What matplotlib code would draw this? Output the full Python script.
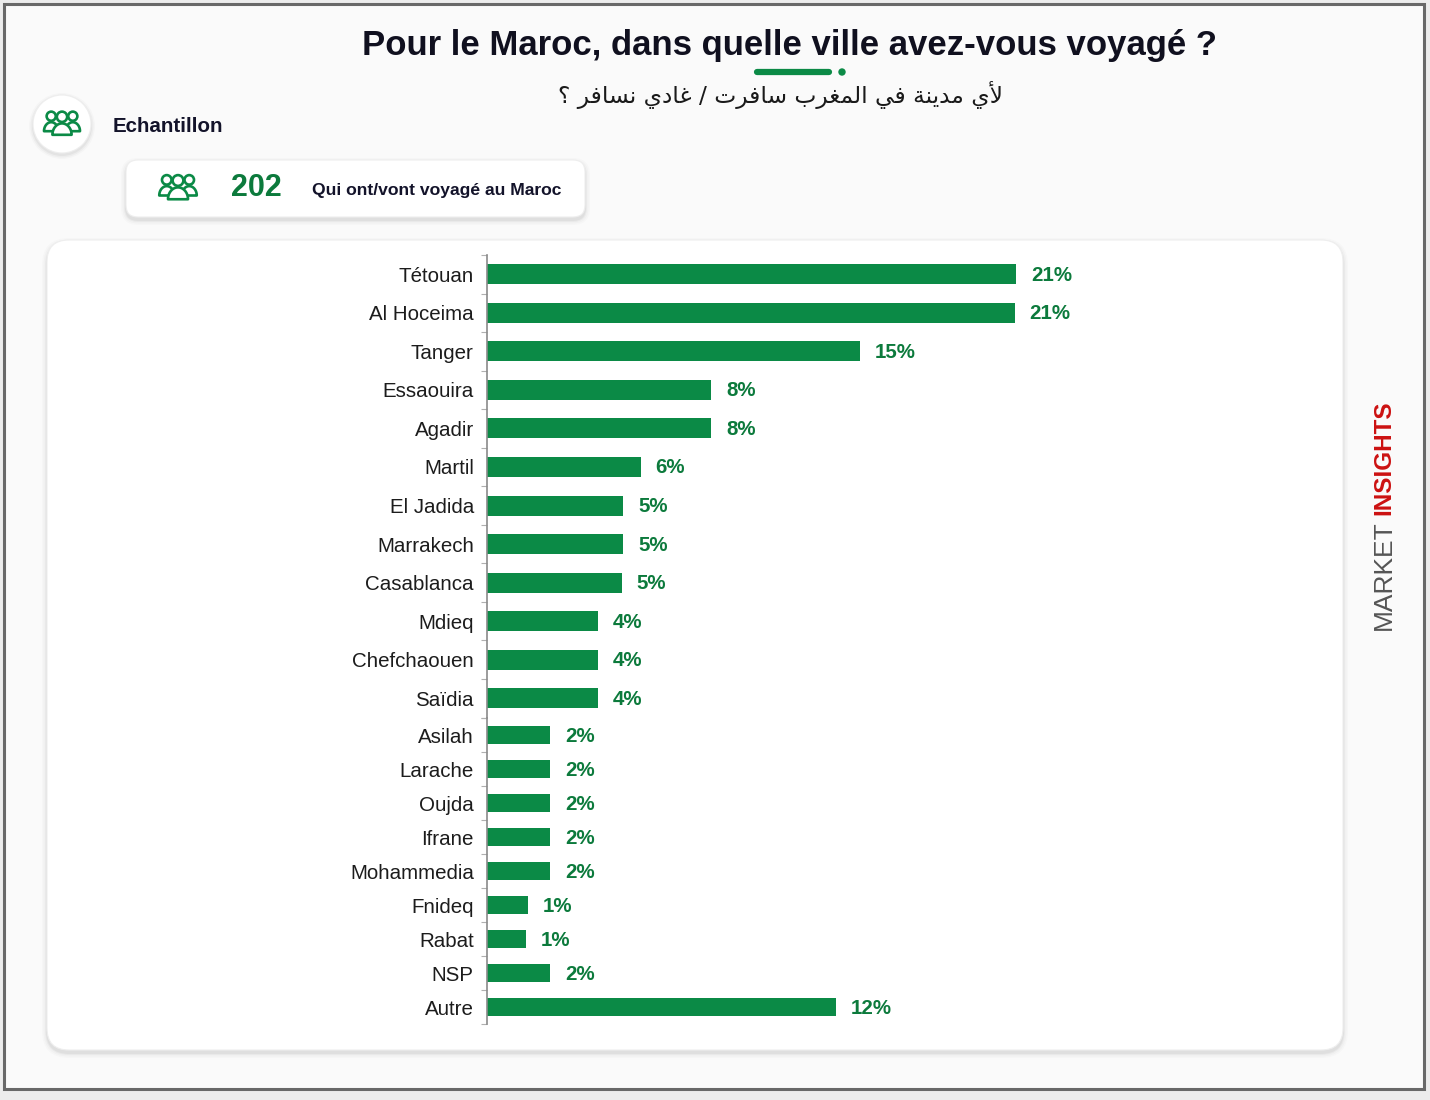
import numpy as np
import matplotlib
matplotlib.use('Agg')
import matplotlib.pyplot as plt
from matplotlib.patches import FancyBboxPatch, Circle, Rectangle, Polygon

# ---------------- data ----------------
cities = ['Tétouan', 'Al Hoceima', 'Tanger', 'Essaouira', 'Agadir', 'Martil',
          'El Jadida', 'Marrakech', 'Casablanca', 'Mdieq', 'Chefchaouen', 'Saïdia',
          'Asilah', 'Larache', 'Oujda', 'Ifrane', 'Mohammedia', 'Fnideq', 'Rabat',
          'NSP', 'Autre']
# bar lengths (in %) as drawn in the reference
values = [21.0, 20.95, 14.8, 8.9, 8.9, 6.1, 5.4, 5.4, 5.35, 4.4, 4.4, 4.4,
          2.5, 2.5, 2.5, 2.5, 2.5, 1.62, 1.55, 2.5, 13.85]
value_labels = ['21%', '21%', '15%', '8%', '8%', '6%', '5%', '5%', '5%', '4%', '4%', '4%',
                '2%', '2%', '2%', '2%', '2%', '1%', '1%', '2%', '12%']
title = 'Pour le Maroc, dans quelle ville avez-vous voyagé ?'
subtitle_ar = 'لأي مدينة في المغرب سافرت / غادي نسافر ؟'
sample_heading = 'Echantillon'
sample_n = '202'
sample_label = 'Qui ont/vont voyagé au Maroc'
brand_a = 'MARKET'
brand_b = 'INSIGHTS'

GREEN = '#0b8a46'
GREEN_TXT = '#0c7a3c'
DARK = '#13132a'

# ---------------- simple Arabic shaping (presentation forms + RTL) ----------------
AR_FORMS = {
    'ا': ('\uFE8D', '\uFE8E', None, None),
    'أ': ('\uFE83', '\uFE84', None, None),
    'ب': ('\uFE8F', '\uFE90', '\uFE91', '\uFE92'),
    'ة': ('\uFE93', '\uFE94', None, None),
    'ت': ('\uFE95', '\uFE96', '\uFE97', '\uFE98'),
    'د': ('\uFEA9', '\uFEAA', None, None),
    'ر': ('\uFEAD', '\uFEAE', None, None),
    'س': ('\uFEB1', '\uFEB2', '\uFEB3', '\uFEB4'),
    'غ': ('\uFECD', '\uFECE', '\uFECF', '\uFED0'),
    'ف': ('\uFED1', '\uFED2', '\uFED3', '\uFED4'),
    'ل': ('\uFEDD', '\uFEDE', '\uFEDF', '\uFEE0'),
    'م': ('\uFEE1', '\uFEE2', '\uFEE3', '\uFEE4'),
    'ن': ('\uFEE5', '\uFEE6', '\uFEE7', '\uFEE8'),
    'ي': ('\uFEF1', '\uFEF2', '\uFEF3', '\uFEF4'),
}
LAM_ALEF = {'أ': ('\uFEF7', '\uFEF8'), 'ا': ('\uFEFB', '\uFEFC')}


def shape_arabic(s):
    toks = []
    i = 0
    while i < len(s):
        c = s[i]
        if c == 'ل' and i + 1 < len(s) and s[i + 1] in LAM_ALEF:
            toks.append(('LA', s[i + 1]))
            i += 2
        else:
            toks.append(('C', c))
            i += 1

    def is_letter(t):
        return t is not None and (t[0] == 'LA' or t[1] in AR_FORMS)

    def dual(t):
        return t is not None and t[0] == 'C' and t[1] in AR_FORMS and AR_FORMS[t[1]][2] is not None

    out = []
    for k, t in enumerate(toks):
        prev = toks[k - 1] if k > 0 else None
        nxt = toks[k + 1] if k + 1 < len(toks) else None
        if not is_letter(t):
            out.append(t[1])
            continue
        jp = dual(prev)
        if t[0] == 'LA':
            out.append(LAM_ALEF[t[1]][1] if jp else LAM_ALEF[t[1]][0])
            continue
        jn = dual(t) and is_letter(nxt)
        f = AR_FORMS[t[1]]
        if jp and jn:
            out.append(f[3])
        elif jp:
            out.append(f[1])
        elif jn:
            out.append(f[2])
        else:
            out.append(f[0])
    return ''.join(out)[::-1]


# ---------------- figure ----------------
W, H = 1430, 1100
fig = plt.figure(figsize=(W / 100, H / 100), dpi=100, facecolor='#ececec')
bg = fig.add_axes([0, 0, 1, 1])
bg.set_xlim(0, W)
bg.set_ylim(H, 0)
bg.axis('off')

bg.add_patch(Rectangle((4, 4), 1420, 1085, facecolor='#fafafa', edgecolor='#686868', lw=2.2, zorder=0))


def card(x, y, w, h, r):
    for d, a in [(10, 0.015), (7, 0.02), (4, 0.03), (2, 0.04)]:
        bg.add_patch(FancyBboxPatch((x - d / 2, y - d / 2 + 3), w + d, h + d,
                                    boxstyle=f'round,pad=0,rounding_size={r + d / 2}',
                                    fc='black', ec='none', alpha=a, zorder=1))
    bg.add_patch(FancyBboxPatch((x, y), w, h, boxstyle=f'round,pad=0,rounding_size={r}',
                                fc='white', ec='#eeeeee', lw=0.8, zorder=2))


def people(cx, cy, s, color, face='white'):
    lw = 1.9

    def body(bx, by, rx, ry, z):
        t = np.linspace(np.pi, 2 * np.pi, 40)
        pts = np.column_stack([bx + rx * np.cos(t), by + ry * np.sin(t)])
        bg.add_patch(Polygon(pts, closed=True, fc=face, ec=color, lw=lw, zorder=z,
                             joinstyle='round'))

    for dx in (-9 * s, 9 * s):
        bg.add_patch(Circle((cx + dx, cy - 6.5 * s), 3.8 * s, fill=False, ec=color, lw=lw, zorder=5))
        body(cx + dx, cy + 6 * s, 6 * s, 7.5 * s, 5)
    bg.add_patch(Circle((cx, cy - 6 * s), 4.3 * s, fc=face, ec=color, lw=lw, zorder=6))
    body(cx, cy + 9 * s, 8 * s, 9.5 * s, 6)


# chart panel
card(47, 240, 1296, 810, 22)

# title & subtitle
bg.text(790, 46, title, ha='center', va='center', fontsize=25, fontweight='bold',
        color='#10101f', family='Liberation Sans', zorder=5)
bg.plot([757, 829], [72, 72], color=GREEN, lw=4.5, solid_capstyle='round', zorder=5)
bg.add_patch(Circle((842, 72), 3, color=GREEN, zorder=5))
bg.text(780, 95, shape_arabic(subtitle_ar), ha='center', va='center', fontsize=16.8,
        color='#1a1a1a', family='DejaVu Sans', zorder=5)

# Echantillon
for d, a in [(8, 0.02), (5, 0.03), (2, 0.04)]:
    bg.add_patch(Circle((62, 126), 29 + d / 2, fc='black', ec='none', alpha=a, zorder=1))
bg.add_patch(Circle((62, 124), 29, fc='white', ec='#eeeeee', lw=0.8, zorder=2))
people(62, 124, 1.2, GREEN)
bg.text(113, 127, sample_heading, ha='left', va='center', fontsize=14.8, fontweight='bold',
        color=DARK, family='Liberation Sans', zorder=5)

# sample card
card(126, 160, 459, 57, 12)
people(178, 188, 1.25, GREEN)
bg.text(231, 188, sample_n, ha='left', va='center', fontsize=22, fontweight='bold',
        color=GREEN_TXT, family='Liberation Sans', zorder=5)
bg.text(312, 191, sample_label, ha='left', va='center', fontsize=12.6, fontweight='bold',
        color=DARK, family='Liberation Sans', zorder=5)

# brand
bg.text(1384, 630, brand_a, rotation=90, ha='center', va='bottom', fontsize=19,
        color='#555555', family='Liberation Sans', zorder=5)
bg.text(1384, 515, brand_b, rotation=90, ha='center', va='bottom', fontsize=17.5,
        fontweight='bold', color='#cc1111', family='Liberation Sans', zorder=5)

# ---------------- bar chart (two stacked blocks with their own row spacing) ----------------
SPLIT = 12


def bar_block(top_px, bottom_px, names, vals, labs, bar_h, lo, hi):
    ax = fig.add_axes([487 / W, 1 - bottom_px / H, 806 / W, (bottom_px - top_px) / H])
    ax.set_facecolor('none')
    ax.set_zorder(3)
    yp = np.arange(len(names))
    ax.barh(yp, vals, height=bar_h, color=GREEN)
    ax.set_ylim(hi, lo)
    ax.set_xlim(0, 32)
    ax.set_yticks(yp)
    ax.set_yticklabels(names, family='Liberation Sans', fontsize=14.8, color='#1c1c1c')
    ax.set_yticks(np.arange(len(names) + 1) - 0.5, minor=True)
    ax.tick_params(axis='y', which='major', length=0, pad=9.5)
    ax.tick_params(axis='y', which='minor', length=4, color='#b0b0b0', width=0.8)
    ax.set_xticks([])
    for sp in ['top', 'right', 'bottom']:
        ax.spines[sp].set_visible(False)
    ax.spines['left'].set_color('#8a8a8a')
    ax.spines['left'].set_linewidth(1.2)
    for i, (v, lab) in enumerate(zip(vals, labs)):
        ax.annotate(lab, (v, i), xytext=(15, -1), textcoords='offset pixels', ha='left',
                    va='center', fontsize=14.8, fontweight='bold', color=GREEN_TXT,
                    family='Liberation Sans')
    return ax


bar_block(255, 717.5, cities[:SPLIT], values[:SPLIT], value_labels[:SPLIT], 0.52, -0.49, SPLIT - 0.55)
bar_block(717.5, 1024, cities[SPLIT:], values[SPLIT:], value_labels[SPLIT:], 0.54,
          -0.515, len(cities) - SPLIT - 0.5)

fig.savefig('out.png', dpi=100, facecolor=fig.get_facecolor())
